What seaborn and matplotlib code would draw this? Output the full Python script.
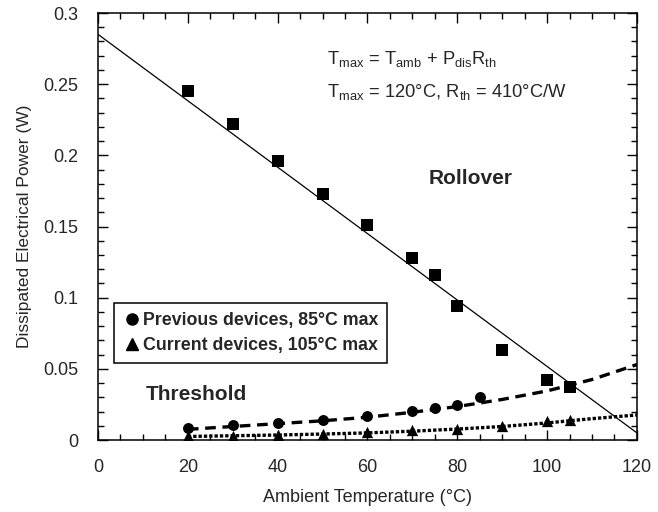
import matplotlib
matplotlib.use("Agg")
import matplotlib.pyplot as plt
import seaborn as sns
import numpy as np
import pandas as pd
from matplotlib.ticker import MultipleLocator
from matplotlib.lines import Line2D

# ---- data ----
rollover_T = [20, 30, 40, 50, 60, 70, 75, 80, 90, 100, 105]
rollover_P = [0.245, 0.222, 0.196, 0.173, 0.151, 0.128, 0.116, 0.094, 0.063, 0.042, 0.037]

line_T = [0, 120]
line_P = [0.285, 0.005]

prev_T = [20, 30, 40, 50, 60, 70, 75, 80, 85]
prev_P = [0.0085, 0.0105, 0.012, 0.014, 0.017, 0.0204, 0.0225, 0.0246, 0.030]

curr_T = [20, 30, 40, 50, 60, 70, 80, 90, 100, 105]
curr_P = [0.0025, 0.003, 0.0035, 0.0042, 0.0055, 0.007, 0.008, 0.0099, 0.0134, 0.014]

fit_T = [20, 30, 40, 50, 60, 70, 80, 90, 100, 110, 120]
prev_fit = [0.0075, 0.0095, 0.0115, 0.0135, 0.016, 0.0195, 0.0235, 0.0285, 0.0345, 0.0425, 0.053]
curr_fit = [0.0025, 0.003, 0.0035, 0.0042, 0.005, 0.0062, 0.0077, 0.0095, 0.012, 0.015, 0.0176]

legend_labels = ["Previous devices, 85°C max", "Current devices, 105°C max"]

# ---- style ----
sns.set_theme(style="ticks")
plt.rcParams['font.family'] = ['Liberation Sans', 'DejaVu Sans']
plt.rcParams['mathtext.fontset'] = 'custom'
plt.rcParams['mathtext.rm'] = 'Liberation Sans'
plt.rcParams['mathtext.it'] = 'Liberation Sans'

fig = plt.figure(figsize=(6.58, 5.12), dpi=100)
ax = fig.add_axes([0.149, 0.1406, 0.819, 0.834])

sns.lineplot(x=line_T, y=line_P, ax=ax, color="black", lw=0.9)
sns.lineplot(x=fit_T, y=prev_fit, ax=ax, color="black", lw=2.4)
ax.lines[-1].set_linestyle((0, (3.2, 2.0)))
sns.lineplot(x=fit_T, y=curr_fit, ax=ax, color="black", lw=2.4)
ax.lines[-1].set_linestyle((0, (1.0, 0.6)))

sns.scatterplot(x=rollover_T, y=rollover_P, ax=ax, marker="s", s=78, color="black",
                edgecolor="black", linewidth=0, zorder=5)
sns.scatterplot(x=prev_T, y=prev_P, ax=ax, marker="o", s=62, color="black",
                edgecolor="black", linewidth=0, zorder=5)
sns.scatterplot(x=curr_T, y=curr_P, ax=ax, marker="^", s=66, color="black",
                edgecolor="black", linewidth=0, zorder=5)

ax.set_xlim(0, 120)
ax.set_ylim(0, 0.3)
ax.xaxis.set_minor_locator(MultipleLocator(5))
ax.yaxis.set_minor_locator(MultipleLocator(0.01))
ax.set_xticks([0, 20, 40, 60, 80, 100, 120])
ax.set_xticklabels(["0", "20", "40", "60", "80", "100", "120"])
ax.set_yticks([0, 0.05, 0.1, 0.15, 0.2, 0.25, 0.3])
ax.set_yticklabels(["0", "0.05", "0.1", "0.15", "0.2", "0.25", "0.3"])
ax.tick_params(which="both", direction="in", top=True, right=True, color="black", width=1)
ax.tick_params(which="major", length=7, labelsize=13)
ax.tick_params(which="minor", length=4)
ax.tick_params(axis="x", which="major", pad=14)
ax.tick_params(axis="y", which="major", pad=14)
for sp in ax.spines.values():
    sp.set_visible(True)
    sp.set_color("black")
    sp.set_linewidth(1.1)

ax.set_xlabel("Ambient Temperature (°C)", fontsize=13, labelpad=9)
ax.set_ylabel("Dissipated Electrical Power (W)", fontsize=12.5, labelpad=8)

ax.text(0.425, 0.893, r"T$_{\mathrm{max}}$ = T$_{\mathrm{amb}}$ + P$_{\mathrm{dis}}$R$_{\mathrm{th}}$",
        transform=ax.transAxes, fontsize=13.2, va="center", ha="left")
ax.text(0.425, 0.816, r"T$_{\mathrm{max}}$ = 120°C, R$_{\mathrm{th}}$ = 410°C/W",
        transform=ax.transAxes, fontsize=13.2, va="center", ha="left")
ax.text(83, 0.184, "Rollover", fontsize=15, fontweight="bold", ha="center", va="center")
ax.text(21.8, 0.032, "Threshold", fontsize=15, fontweight="bold", ha="center", va="center")

handles = [Line2D([], [], marker="o", ls="none", color="black", markersize=8),
           Line2D([], [], marker="^", ls="none", color="black", markersize=8)]
leg = ax.legend(handles, legend_labels, loc="upper left", bbox_to_anchor=(0.03, 0.321),
                frameon=True, fancybox=False, edgecolor="black", framealpha=1,
                prop={"weight": "bold", "size": 12.8}, handletextpad=0.1,
                handlelength=1.0, borderpad=0.5, labelspacing=0.45, borderaxespad=0)
leg.get_frame().set_linewidth(1.1)

fig.savefig("out.png", dpi=100)
